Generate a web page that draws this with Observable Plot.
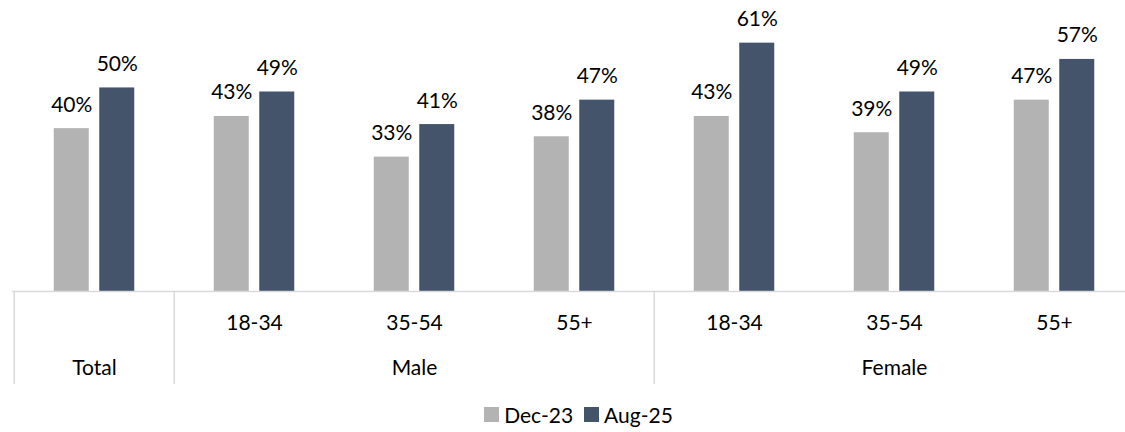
<!DOCTYPE html>
<html>
<head>
<meta charset="utf-8">
<script src="https://cdn.jsdelivr.net/npm/d3@7"></script>
<script src="https://cdn.jsdelivr.net/npm/@observablehq/plot@0.6"></script>
<style>
  html, body { margin: 0; padding: 0; background: #fff; }
  body { width: 1125px; height: 432px; overflow: hidden; font-family: Lato, "Open Sans", sans-serif; }
  .legend { display: flex; justify-content: center; align-items: center; gap: 11px; padding-left: 32px; margin-top: 2px; font-size: 21px; color: #000; }
  .legend .item { display: flex; align-items: center; gap: 5px; }
  .legend .sw { width: 15px; height: 15px; display: inline-block; }
</style>
</head>
<body>
<div id="chart"></div>
<script>
const categories = ["Total", "Male 18-34", "Male 35-54", "Male 55+", "Female 18-34", "Female 35-54", "Female 55+"];
const subLabels = ["", "18-34", "35-54", "55+", "18-34", "35-54", "55+"];
const dec23 = [40, 43, 33, 38, 43, 39, 47];
const aug25 = [50, 49, 41, 47, 61, 49, 57];
const groupLabels = ["Total", "Male", "Female"];
const groupAnchors = ["Total", "Male 35-54", "Female 35-54"];
const dividerAt = ["Total", "Male 18-34", "Female 18-34"];
const seriesNames = ["Dec-23", "Aug-25"];
const seriesColors = ["#b3b3b3", "#44546a"];

const decRows = categories.map((c, i) => ({cat: c, value: dec23[i]}));
const augRows = categories.map((c, i) => ({cat: c, value: aug25[i]}));
const subRows = categories.map((c, i) => ({cat: c, label: subLabels[i]})).filter(d => d.label);
const groupRows = groupLabels.map((g, i) => ({cat: groupAnchors[i], label: g}));

const step = 1123.5 / categories.length;
const half = step / 2;

const chart = Plot.plot({
  width: 1125,
  height: 400,
  marginTop: 6,
  marginBottom: 109,
  marginLeft: 12,
  marginRight: 0,
  style: {fontFamily: "Lato, 'Open Sans', sans-serif", fontSize: "21px", color: "#000", background: "#fff"},
  x: {type: "band", domain: categories, range: [12, 1135.5], padding: 0, axis: null},
  y: {domain: [0, 70], axis: null},
  marks: [
    Plot.barY(decRows, {x: "cat", y: "value", fill: seriesColors[0], insetLeft: half - 40.5, insetRight: half + 5}),
    Plot.barY(augRows, {x: "cat", y: "value", fill: seriesColors[1], insetLeft: half + 5, insetRight: half - 40.5}),
    Plot.text(decRows, {x: "cat", y: "value", text: d => d.value + "%", dx: -22.75, dy: -17, lineAnchor: "bottom", fill: "#000"}),
    Plot.text(augRows, {x: "cat", y: "value", text: d => d.value + "%", dx: 22.75, dy: -17, lineAnchor: "bottom", fill: "#000"}),
    Plot.ruleY([0], {stroke: "#d9d9d9", strokeWidth: 1.5}),
    Plot.ruleX(dividerAt, {x: d => d, dx: -half, y1: 0, y2: 0, insetBottom: -93, stroke: "#d9d9d9", strokeWidth: 1.5}),
    Plot.text(subRows, {x: "cat", y: 0, text: "label", dy: 32, fill: "#000"}),
    Plot.text(groupRows, {x: "cat", y: 0, text: "label", dy: 77, fill: "#000"})
  ]
});
document.getElementById("chart").appendChild(chart);

const legend = document.createElement("div");
legend.className = "legend";
seriesNames.forEach((name, i) => {
  const item = document.createElement("span");
  item.className = "item";
  const sw = document.createElement("span");
  sw.className = "sw";
  sw.style.background = seriesColors[i];
  const t = document.createElement("span");
  t.textContent = name;
  item.appendChild(sw);
  item.appendChild(t);
  legend.appendChild(item);
});
document.getElementById("chart").appendChild(legend);
</script>
</body>
</html>
